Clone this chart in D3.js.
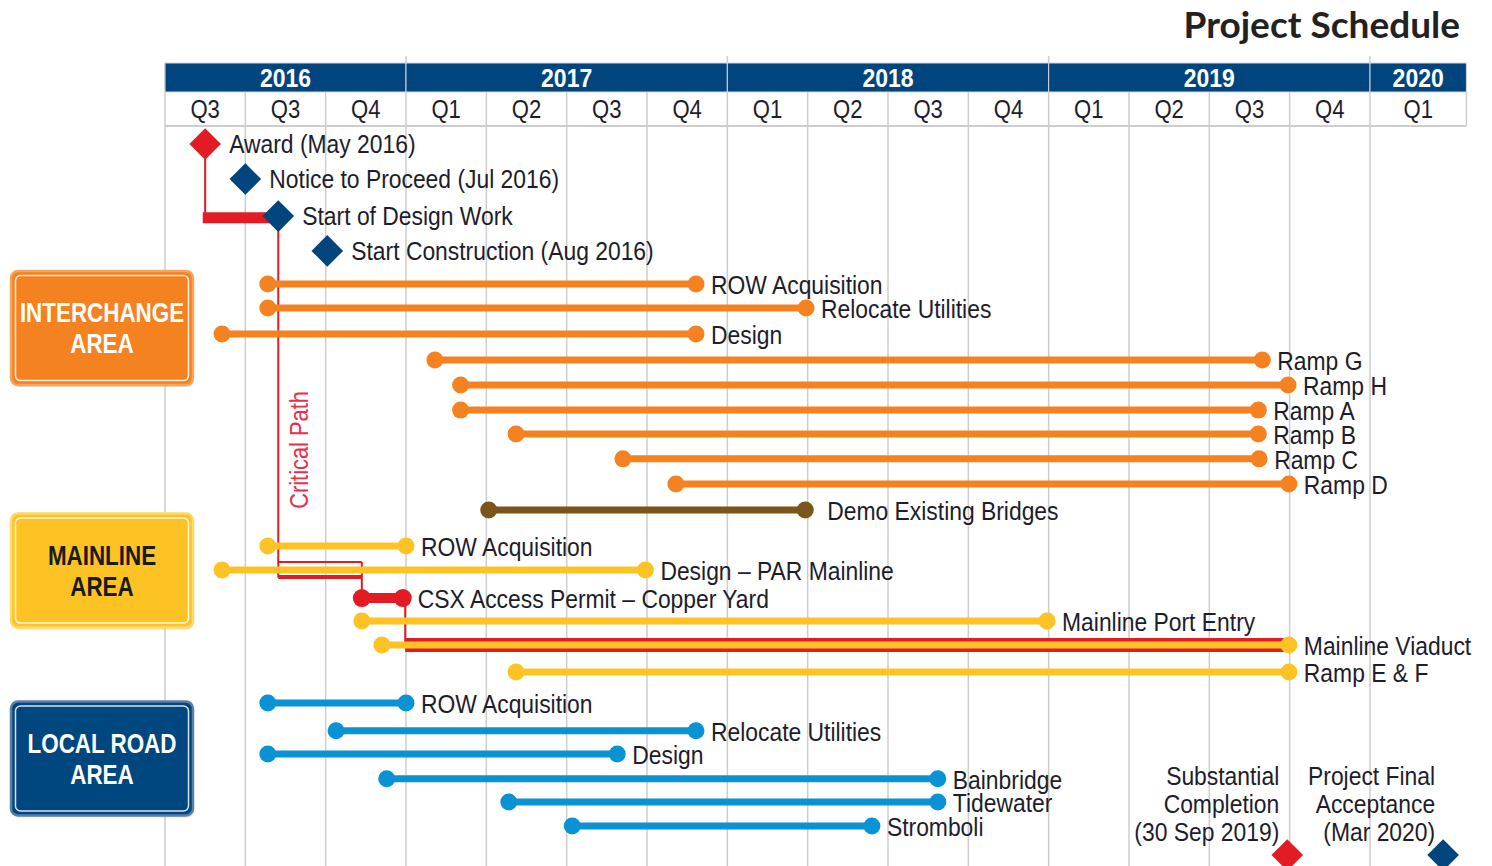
<!DOCTYPE html>
<html>
<head>
<meta charset="utf-8">
<script src="https://cdn.jsdelivr.net/npm/d3@7"></script>
<style>
  body { margin: 0; background: #fff; }
  text { font-family: "Liberation Sans", Arial, sans-serif; }
</style>
</head>
<body>
<div id="chart"></div>
<script>
const width = 1492;
const height = 866;

// header
const years = ["2016", "2017", "2018", "2019", "2020"];
const yearStart = [0, 3, 7, 11, 15];
const yearEnd = [3, 7, 11, 15, 16.2];
const quarterLabels = ["Q3", "Q3", "Q4", "Q1", "Q2", "Q3", "Q4", "Q1", "Q2", "Q3", "Q4", "Q1", "Q2", "Q3", "Q4", "Q1"];

// milestones (q = quarter columns from the left edge, row = row units)
const milestones = [
  { name: "Award (May 2016)", q: 0.5, row: 0, critical: true },
  { name: "Notice to Proceed (Jul 2016)", q: 1.0, row: 1.38, critical: false },
  { name: "Start of Design Work", q: 1.41, row: 2.84, critical: false },
  { name: "Start Construction (Aug 2016)", q: 2.02, row: 4.21, critical: false }
];
const endMilestones = [
  { lines: ["Substantial", "Completion", "(30 Sep 2019)"], q: 13.97, row: 28, critical: true },
  { lines: ["Project Final", "Acceptance", "(Mar 2020)"], q: 15.91, row: 28, critical: false }
];

// activities
const interchangeTasks = [
  { name: "ROW Acquisition", start: 1.28, end: 6.61, row: 5.51 },
  { name: "Relocate Utilities", start: 1.28, end: 7.98, row: 6.46 },
  { name: "Design", start: 0.71, end: 6.61, row: 7.48 },
  { name: "Ramp G", start: 3.36, end: 13.66, row: 8.51 },
  { name: "Ramp H", start: 3.68, end: 13.98, row: 9.49 },
  { name: "Ramp A", start: 3.68, end: 13.61, row: 10.48 },
  { name: "Ramp B", start: 4.37, end: 13.61, row: 11.42 },
  { name: "Ramp C", start: 5.70, end: 13.62, row: 12.40 },
  { name: "Ramp D", start: 6.36, end: 13.99, row: 13.39 },
  { name: "Demo Existing Bridges", start: 4.03, end: 7.97, row: 14.41, brown: true }
];
const mainlineTasks = [
  { name: "ROW Acquisition", start: 1.28, end: 3.0, row: 15.83 },
  { name: "Design \u2013 PAR Mainline", start: 0.71, end: 5.98, row: 16.78 },
  { name: "CSX Access Permit \u2013 Copper Yard", start: 2.45, end: 2.96, row: 17.88, critical: true },
  { name: "Mainline Port Entry", start: 2.45, end: 10.98, row: 18.78 },
  { name: "Mainline Viaduct", start: 2.70, end: 13.99, row: 19.73 },
  { name: "Ramp E & F", start: 4.37, end: 13.99, row: 20.79 }
];
const localRoadTasks = [
  { name: "ROW Acquisition", start: 1.28, end: 3.0, row: 22.01 },
  { name: "Relocate Utilities", start: 2.13, end: 6.61, row: 23.11 },
  { name: "Design", start: 1.28, end: 5.63, row: 24.02 },
  { name: "Bainbridge", start: 2.76, end: 9.62, row: 25.00 },
  { name: "Tidewater", start: 4.28, end: 9.62, row: 25.91 },
  { name: "Stromboli", start: 5.07, end: 8.80, row: 26.86 }
];

// critical path connectors [q1, row1, q2, row2, stroke width]
const criticalSegments = [
  [0.5, 0, 0.5, 2.9, 2],
  [0.47, 2.9, 1.41, 2.9, 11],
  [1.41, 2.84, 1.41, 17.08, 2],
  [1.41, 16.46, 2.45, 16.46, 2],
  [1.41, 17.05, 2.45, 17.05, 4],
  [2.45, 16.46, 2.45, 17.88, 2],
  [2.99, 17.88, 2.99, 19.73, 2]
];
const criticalBand = { start: 2.99, end: 13.93, row: 19.73 };

const areas = [
  { lines: ["INTERCHANGE", "AREA"], row: 7.25, fill: "#F58220", edge: "#F9A45C", ink: "#fff" },
  { lines: ["MAINLINE", "AREA"], row: 16.8, fill: "#FDC325", edge: "#FFD966", ink: "#1a1a1a" },
  { lines: ["LOCAL ROAD", "AREA"], row: 24.2, fill: "#00467F", edge: "#5C7FA6", ink: "#fff" }
];

const orange = "#F58220", yellow = "#FDC325", blue = "#0A93D4", navy = "#00457E",
      red = "#E31B25", brown = "#7B5519", grid = "#CDCDCD", ink = "#1d1d2b";

const x = d3.scaleLinear().domain([0, 15]).range([165, 1370]);
const y = d3.scaleLinear().domain([0, 28]).range([144, 855]);

const svg = d3.select("#chart").append("svg")
  .attr("width", width)
  .attr("height", height);

// places a text at (px, py), squeezed horizontally like the condensed original lettering
function at(px, py, sx, extra) {
  return `translate(${px},${py})${extra || ""} scale(${sx || 0.88},1)`;
}

// title
svg.append("text")
  .attr("x", 1460).attr("y", 38)
  .attr("text-anchor", "end")
  .style("font-family", "Lato, 'Open Sans', sans-serif")
  .attr("font-weight", 700)
  .attr("font-size", 37)
  .attr("fill", "#222")
  .text("Project Schedule");

const bandTop = 63, bandBottom = 92, quarterBottom = 126;

// grid lines
svg.append("g").selectAll("line")
  .data(d3.range(1, 16))
  .join("line")
  .attr("x1", d => x(d)).attr("x2", d => x(d))
  .attr("y1", bandBottom).attr("y2", height)
  .attr("stroke", grid).attr("stroke-width", 1.5);
svg.append("line")
  .attr("x1", x(0)).attr("x2", x(0)).attr("y1", bandTop).attr("y2", height)
  .attr("stroke", grid).attr("stroke-width", 1.5);
svg.append("g").selectAll("line")
  .data(yearStart.slice(1))
  .join("line")
  .attr("x1", d => x(d)).attr("x2", d => x(d))
  .attr("y1", 56).attr("y2", bandTop)
  .attr("stroke", grid).attr("stroke-width", 1.5);
svg.append("line")
  .attr("x1", x(0)).attr("x2", x(16.2)).attr("y1", quarterBottom).attr("y2", quarterBottom)
  .attr("stroke", grid).attr("stroke-width", 2);
svg.append("line")
  .attr("x1", x(16.2)).attr("x2", x(16.2)).attr("y1", bandBottom).attr("y2", quarterBottom)
  .attr("stroke", grid).attr("stroke-width", 1.5);

// year band
const yearG = svg.append("g");
yearG.selectAll("rect")
  .data(years)
  .join("rect")
  .attr("x", (d, i) => x(yearStart[i]))
  .attr("width", (d, i) => x(yearEnd[i]) - x(yearStart[i]))
  .attr("y", bandTop).attr("height", bandBottom - bandTop)
  .attr("fill", navy)
  .attr("stroke", "#d8d8d8").attr("stroke-width", 1);
yearG.selectAll("text")
  .data(years)
  .join("text")
  .attr("transform", (d, i) => at(x((yearStart[i] + yearEnd[i]) / 2), (bandTop + bandBottom) / 2, 0.92))
  .attr("dy", "0.36em")
  .attr("text-anchor", "middle")
  .attr("font-size", 25)
  .attr("font-weight", 700)
  .attr("fill", "#fff")
  .text(d => d);

svg.append("g").selectAll("text")
  .data(quarterLabels)
  .join("text")
  .attr("transform", (d, i) => at(x(i === 15 ? 15.6 : i + 0.5), (bandBottom + quarterBottom) / 2, 0.85))
  .attr("dy", "0.36em")
  .attr("text-anchor", "middle")
  .attr("font-size", 26)
  .attr("fill", ink)
  .text(d => d);

// area boxes
const boxW = 182, boxH = 114;
const boxG = svg.append("g").selectAll("g")
  .data(areas)
  .join("g")
  .attr("transform", d => `translate(11,${y(d.row) - boxH / 2})`);
boxG.append("rect")
  .attr("x", 1).attr("y", 2).attr("width", boxW).attr("height", boxH)
  .attr("rx", 7).attr("fill", "#000").attr("opacity", 0.12);
boxG.append("rect")
  .attr("width", boxW).attr("height", boxH).attr("rx", 7)
  .attr("fill", d => d.fill).attr("stroke", d => d.edge).attr("stroke-width", 2.5);
boxG.append("rect")
  .attr("x", 4.5).attr("y", 4.5).attr("width", boxW - 9).attr("height", boxH - 9).attr("rx", 5)
  .attr("fill", "none").attr("stroke", "#fff").attr("stroke-opacity", 0.85).attr("stroke-width", 1.5);
boxG.each(function(d) {
  d3.select(this).selectAll("text.lbl")
    .data(d.lines)
    .join("text")
    .attr("class", "lbl")
    .attr("transform", (t, i) => at(boxW / 2, boxH / 2 + (i - 0.5) * 31, 0.83))
    .attr("dy", "0.36em")
    .attr("text-anchor", "middle")
    .attr("font-size", 27)
    .attr("font-weight", 700)
    .attr("fill", d.ink)
    .text(t => t);
});

// critical path connectors
const critG = svg.append("g");
critG.selectAll("line")
  .data(criticalSegments)
  .join("line")
  .attr("x1", d => x(d[0])).attr("y1", d => y(d[1]))
  .attr("x2", d => x(d[2])).attr("y2", d => y(d[3]))
  .attr("stroke", red).attr("stroke-width", d => d[4]);
critG.append("rect")
  .attr("x", x(criticalBand.start))
  .attr("width", x(criticalBand.end) - x(criticalBand.start))
  .attr("y", y(criticalBand.row) - 7).attr("height", 14)
  .attr("fill", red);
critG.append("text")
  .attr("transform", at(x(1.41) + 20, y(12.05), 0.84, " rotate(-90)"))
  .attr("text-anchor", "middle")
  .attr("dy", "0.36em")
  .attr("font-size", 26)
  .attr("fill", "#E8304A")
  .text("Critical Path");

// activity bars
function drawTasks(tasks, color) {
  const g = svg.append("g").selectAll("g")
    .data(tasks)
    .join("g");
  const col = d => d.critical ? red : d.brown ? brown : color;
  g.append("line")
    .attr("x1", d => x(d.start)).attr("x2", d => x(d.end))
    .attr("y1", d => y(d.row)).attr("y2", d => y(d.row))
    .attr("stroke", col)
    .attr("stroke-width", d => d.critical ? 10 : 7);
  g.selectAll("circle")
    .data(d => [d.start, d.end].map(v => ({ v, d })))
    .join("circle")
    .attr("cx", e => x(e.v)).attr("cy", e => y(e.d.row))
    .attr("r", e => e.d.critical ? 9 : 8.5)
    .attr("fill", e => col(e.d));
  g.append("text")
    .attr("transform", d => at(x(d.end) + (d.brown ? 22 : 15), y(d.row) + 1))
    .attr("dy", "0.36em")
    .attr("font-size", 26)
    .attr("fill", ink)
    .text(d => d.name);
}
drawTasks(interchangeTasks, orange);
drawTasks(mainlineTasks, yellow);
drawTasks(localRoadTasks, blue);

// milestones
const diamond = d3.symbol().type(d3.symbolSquare).size(500);
const msG = svg.append("g").selectAll("g")
  .data(milestones)
  .join("g")
  .attr("transform", d => `translate(${x(d.q)},${y(d.row)})`);
msG.append("path")
  .attr("d", diamond)
  .attr("transform", "rotate(45)")
  .attr("fill", d => d.critical ? red : navy);
msG.append("text")
  .attr("transform", at(24, 0))
  .attr("dy", "0.36em")
  .attr("font-size", 26)
  .attr("fill", ink)
  .text(d => d.name);

const endG = svg.append("g").selectAll("g")
  .data(endMilestones)
  .join("g")
  .attr("transform", d => `translate(${x(d.q)},${y(d.row)})`);
endG.append("path")
  .attr("d", diamond)
  .attr("transform", "rotate(45)")
  .attr("fill", d => d.critical ? red : navy);
endG.each(function(d) {
  d3.select(this).selectAll("text")
    .data(d.lines)
    .join("text")
    .attr("transform", (t, i) => at(-8, -79 + i * 28))
    .attr("dy", "0.36em")
    .attr("text-anchor", "end")
    .attr("font-size", 26)
    .attr("fill", ink)
    .text(t => t);
});
</script>
</body>
</html>
